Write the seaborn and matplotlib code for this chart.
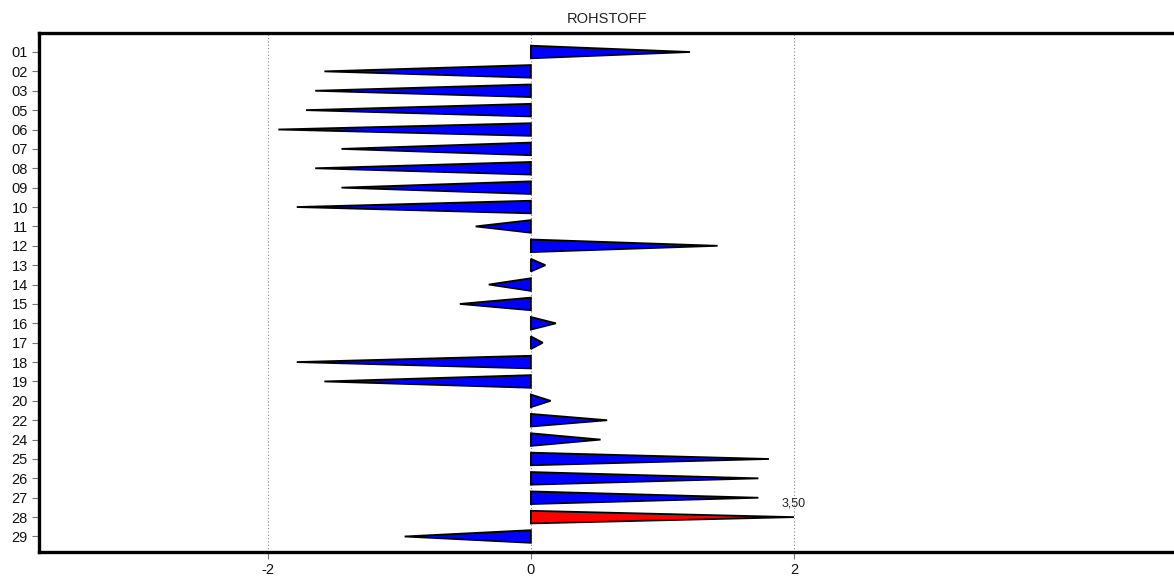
import matplotlib
matplotlib.use("Agg")
import matplotlib.pyplot as plt
from matplotlib.patches import Polygon
import pandas as pd
import seaborn as sns

# row codes and values
codes = ["01", "02", "03", "05", "06", "07", "08", "09", "10", "11", "12", "13", "14",
         "15", "16", "17", "18", "19", "20", "22", "24", "25", "26", "27", "28", "29"]
values = [1.21, -1.57, -1.64, -1.71, -1.92, -1.44, -1.64, -1.44, -1.78, -0.42, 1.42, 0.11, -0.32,
          -0.54, 0.19, 0.09, -1.78, -1.57, 0.15, 0.58, 0.53, 1.81, 1.73, 1.73, 3.50, -0.96]
highlight = "28"
clip_max = 2.0
x_ticks = [-2, 0, 2]
title = "ROHSTOFF"

sns.set_theme(style="white")
plt.rcParams["font.family"] = ["Liberation Sans", "DejaVu Sans"]
plt.rcParams["axes.unicode_minus"] = False

df = pd.DataFrame({"code": codes, "value": values})
df["shown"] = df["value"].clip(upper=clip_max)
colors = ["#FF0000" if c == highlight else "#0000FF" for c in df["code"]]

fig = plt.figure(figsize=(11.74, 5.76), dpi=100)
ax = fig.add_axes([39 / 1174, 1 - 552 / 576, 1 - 39 / 1174, (552 - 33) / 576])

sns.barplot(data=df, x="shown", y="code", hue="code", palette=colors, legend=False,
            orient="h", width=0.65, ax=ax, zorder=3)

# turn each bar into a triangle: full height at zero, point at the value
for bar, col in zip(list(ax.patches), colors):
    base, y0 = bar.get_x(), bar.get_y()
    tip = base + bar.get_width()
    h = bar.get_height()
    tri = Polygon([(base, y0), (base, y0 + h), (tip, y0 + h / 2)],
                  closed=True, facecolor=col, edgecolor="black", linewidth=1.3, zorder=3)
    bar.remove()
    ax.add_patch(tri)

# value label for the clipped bar
for i, row in df.iterrows():
    if row["value"] > clip_max:
        ax.text(row["shown"], i - 0.4, f"{row['value']:.2f}".replace(".", ","),
                fontsize=9, color="#222222", ha="center", va="bottom")

ax.set_xlim(-3.74, 4.89)
ax.set_ylim(25.8, -0.98)
ax.set_xticks(x_ticks)
ax.set_xticklabels([str(t) for t in x_ticks])
ax.grid(axis="x", linestyle=(0, (1, 2)), color="#888888", linewidth=0.8, zorder=0)
ax.grid(axis="y", visible=False)
ax.set_xlabel("")
ax.set_ylabel("")
ax.set_title(title, fontsize=10.5, color="#222222", pad=7)

ax.tick_params(axis="both", which="major", length=5, width=0.8, color="#777777",
               labelsize=10.5, labelcolor="#111111", pad=3)
ax.tick_params(axis="x", bottom=True)
ax.tick_params(axis="y", left=True)

for side in ["left", "top", "bottom"]:
    ax.spines[side].set_visible(True)
    ax.spines[side].set_color("black")
    ax.spines[side].set_linewidth(2.4)
ax.spines["right"].set_visible(False)

fig.savefig("out.png", dpi=100)
